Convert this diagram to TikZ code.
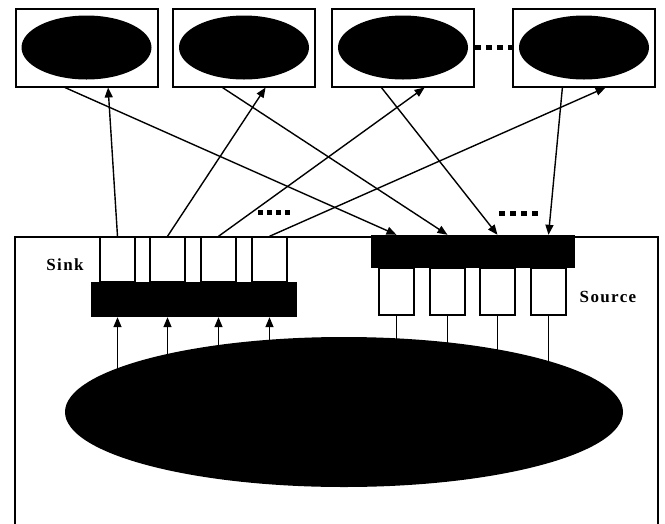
\documentclass[tikz,border=0pt]{standalone}
\usepackage{fontspec}
\setmainfont{Liberation Serif}
\usetikzlibrary{arrows.meta,calc,shapes.geometric}

\tikzset{
    host/.style={draw, line width=2pt, minimum width=142pt, minimum height=78pt, inner sep=0pt},
    blob/.style={ellipse, fill=black, inner sep=0pt},
    bus/.style={fill=black, inner sep=0pt},
    port/.style={draw, line width=1.4pt, minimum width=35pt, inner sep=0pt},
    link/.style={line width=1.4pt, -{Triangle[length=10pt,width=8pt]}},
    dots/.style={line width=5pt, dash pattern=on 5pt off 4pt},
    lbl/.style={font=\fontsize{17}{20}\selectfont\bfseries\addfontfeature{LetterSpace=8}}
}

\begin{document}
\begin{tikzpicture}[x=1pt, y=-1pt]
    \useasboundingbox (0,0) rectangle (665,523);

    % Hosts along the top
    \foreach \i/\x in {1/86.5, 2/244, 3/403, 4/584} {
        \node[host] (host\i) at (\x,47.5) {};
        \node[blob, minimum width=130pt, minimum height=64pt] (disc\i) at (host\i) {};
    }
    \draw[dots, dash pattern=on 6pt off 5pt] (host3.east) -- (host4.west);

    % Frame of the node
    \draw[line width=1.6pt] (15,540) |- (658,237) -- (658,540);

    % Sink side
    \foreach \i/\x in {1/117.5, 2/167.5, 3/218.5, 4/269.5} {
        \node[port, minimum height=45pt] (snk\i) at (\x,259.5) {};
    }
    \node[bus, minimum width=206pt, minimum height=35pt] (snkbus) at (194,299.5) {};
    \node[lbl] (sinklbl) at (65,265) {Sink};

    % Source side
    \node[bus, minimum width=204pt, minimum height=33pt] (srcbus) at (473,251.5) {};
    \foreach \i/\x in {1/396.5, 2/447.5, 3/497.5, 4/548.5} {
        \node[port, minimum height=47pt] (src\i) at (\x,291.5) {};
    }
    \node[lbl] (srclbl) at (608,297) {Source};

    % Ports to and from the big ellipse
    \coordinate (mid) at (344,412);
    \foreach \i in {1,...,4} {
        \draw[link] (mid -| snk\i) -- (snkbus.south -| snk\i);
        \draw[line width=1.4pt] (src\i.south) -- (mid -| src\i);
    }
    \node[blob, minimum width=558pt, minimum height=150pt] (net) at (mid) {};

    % Links between the hosts and the node
    \foreach \i in {1,...,4} {
        \draw[link] (snk\i.north) -- ($(host\i.south west)!0.65!(host\i.south east)$);
        \draw[link] ($(host\i.south west)!0.35!(host\i.south east)$) -- (srcbus.north -| src\i);
    }

    % More ports
    \coordinate (sd1) at (258,212);
    \coordinate (sd2) at (292,212);
    \coordinate (sd3) at (499,213);
    \coordinate (sd4) at (541,213);
    \draw[dots] (sd1) -- (sd2);
    \draw[dots, dash pattern=on 6pt off 5pt] (sd3) -- (sd4);
\end{tikzpicture}
\end{document}
